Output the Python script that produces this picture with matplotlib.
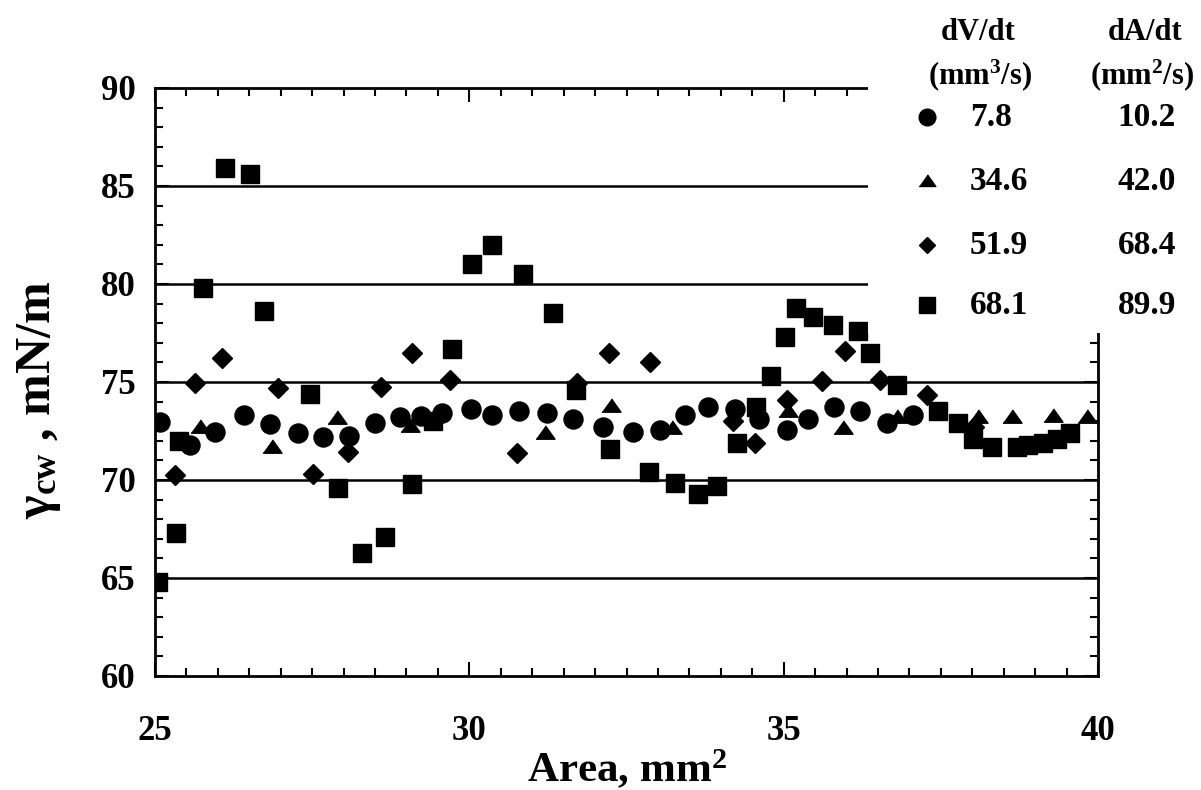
import matplotlib
matplotlib.use('Agg')
import matplotlib.pyplot as plt
from matplotlib.ticker import MultipleLocator

plt.rcParams['font.family'] = ['Liberation Serif', 'DejaVu Serif']
plt.rcParams['font.weight'] = 'bold'
plt.rcParams['axes.labelweight'] = 'bold'
plt.rcParams['mathtext.fontset'] = 'custom'
plt.rcParams['mathtext.rm'] = 'Liberation Serif:bold'
plt.rcParams['mathtext.bf'] = 'Liberation Serif:bold'
plt.rcParams['mathtext.it'] = 'Liberation Serif:bold:italic'

# dV/dt = 7.8 mm3/s (circles)
area_78 = [25.08, 25.56, 25.95, 26.42, 26.83, 27.27, 27.67, 28.09, 28.50, 28.90,
           29.23, 29.56, 30.03, 30.36, 30.79, 31.23, 31.65, 32.13, 32.60, 33.03,
           33.43, 33.80, 34.23, 34.60, 35.05, 35.39, 35.80, 36.21, 36.64, 37.06]
gamma_78 = [72.95, 71.8, 72.45, 73.3, 72.85, 72.4, 72.2, 72.25, 72.9, 73.2,
            73.25, 73.4, 73.6, 73.3, 73.5, 73.4, 73.1, 72.7, 72.45, 72.55,
            73.3, 73.7, 73.6, 73.1, 72.55, 73.1, 73.7, 73.5, 72.9, 73.3]

# dV/dt = 34.6 mm3/s (triangles)
area_346 = [25.72, 26.86, 27.90, 29.06, 31.20, 32.25, 33.22, 35.07, 35.94, 36.80,
            38.09, 38.63, 39.28, 39.82]
gamma_346 = [72.7, 71.7, 73.15, 72.75, 72.4, 73.8, 72.65, 73.5, 72.65, 73.2,
             73.2, 73.2, 73.25, 73.2]

# dV/dt = 51.9 mm3/s (diamonds)
area_519 = [25.32, 25.64, 26.07, 26.96, 27.51, 28.07, 28.60, 29.09, 29.69, 30.76,
            31.71, 32.22, 32.87, 34.19, 34.54, 35.05, 35.61, 35.98, 36.53, 37.28,
            38.02]
gamma_519 = [70.25, 74.95, 76.2, 74.7, 70.3, 71.45, 74.75, 76.5, 75.1, 71.4,
             74.95, 76.5, 76.0, 73.0, 71.9, 74.1, 75.05, 76.6, 75.1, 74.35,
             72.7]

# dV/dt = 68.1 mm3/s (squares)
area_681 = [25.05, 25.33, 25.38, 25.76, 26.11, 26.51, 26.73, 27.47, 27.91, 28.29,
            28.66, 29.09, 29.42, 29.72, 30.04, 30.36, 30.85, 31.33, 31.70, 32.24,
            32.86, 33.27, 33.64, 33.94, 34.26, 34.56, 34.80, 35.02, 35.20, 35.47,
            35.79, 36.18, 36.37, 36.80, 37.45, 37.77, 38.01, 38.31, 38.71, 38.89,
            39.12, 39.35, 39.55]
gamma_681 = [64.8, 67.3, 72.0, 79.8, 85.9, 85.6, 78.6, 74.4, 69.6, 66.3,
             67.1, 69.8, 73.0, 76.7, 81.0, 82.0, 80.5, 78.5, 74.6, 71.6,
             70.4, 69.85, 69.3, 69.7, 71.9, 73.7, 75.3, 77.3, 78.8, 78.3,
             77.9, 77.6, 76.5, 74.85, 73.5, 72.9, 72.1, 71.7, 71.7, 71.8,
             71.9, 72.1, 72.4]

dv_labels = ['7.8', '34.6', '51.9', '68.1']
da_labels = ['10.2', '42.0', '68.4', '89.9']

tri = [(-1, -0.6), (1, -0.6), (0, 0.8)]

fig = plt.figure(figsize=(12.01, 7.90), dpi=100)
ax = fig.add_axes([155 / 1201, 114 / 790, 943 / 1201, 588 / 790])

ax.plot(area_78, gamma_78, 'o', color='black', ms=13.7, zorder=3)
ax.plot(area_346, gamma_346, marker=tri, ls='none', color='black', ms=13.7, zorder=3)
ax.plot(area_519, gamma_519, 'D', color='black', ms=9.7, zorder=3)
ax.plot(area_681, gamma_681, 's', color='black', ms=13, zorder=3)

ax.set_xlim(25, 40)
ax.set_ylim(60, 90)
ax.xaxis.set_major_locator(MultipleLocator(5))
ax.xaxis.set_minor_locator(MultipleLocator(0.5))
ax.yaxis.set_major_locator(MultipleLocator(5))
ax.yaxis.set_minor_locator(MultipleLocator(1))
ax.tick_params(which='both', direction='in', top=True, right=True, width=1.5)
ax.tick_params(which='major', length=10, labelsize=25)
ax.tick_params(which='minor', length=6)
ax.tick_params(axis='x', which='major', pad=28)
ax.tick_params(axis='y', which='major', pad=14)
for s in ax.spines.values():
    s.set_linewidth(2)
for v in [65, 70, 75, 80, 85]:
    ax.axhline(v, color='black', lw=1.8, zorder=1)

ax.set_xlabel('Area, mm$^{\\mathregular{2}}$', fontsize=31, labelpad=0)
ax.set_ylabel('γ$_{\\mathregular{cw}}$ , mN/m', fontsize=36)
ax.yaxis.set_label_coords(-0.098, 0.47)

# legend panel drawn over the top-right corner
lg = fig.add_axes([868 / 1201, 1 - 333 / 790, 1 - 868 / 1201, 333 / 790])
lg.set_facecolor('white')
lg.set_xticks([])
lg.set_yticks([])
for s in lg.spines.values():
    s.set_visible(False)
lg.set_xlim(868, 1201)
lg.set_ylim(333, 0)

lg.text(978, 32, 'dV/dt', fontsize=22, ha='center', va='center')
lg.text(1145, 32, 'dA/dt', fontsize=22, ha='center', va='center')
lg.text(980, 75, '(mm$^{\\mathregular{3}}$/s)', fontsize=22, ha='center', va='center')
lg.text(1142, 75, '(mm$^{\\mathregular{2}}$/s)', fontsize=22, ha='center', va='center')

rows = [117, 181, 245, 305]
marks = [('o', 12), (tri, 12), ('D', 8.5), ('s', 11.5)]
for (m, ms), yy, dv, da in zip(marks, rows, dv_labels, da_labels):
    lg.plot([927], [yy], marker=m, ls='none', color='black', ms=ms)
    lg.text(970, yy, dv, fontsize=24, ha='left', va='center')
    lg.text(1147, yy, da, fontsize=24, ha='center', va='center')

fig.savefig('out.png', dpi=100)
